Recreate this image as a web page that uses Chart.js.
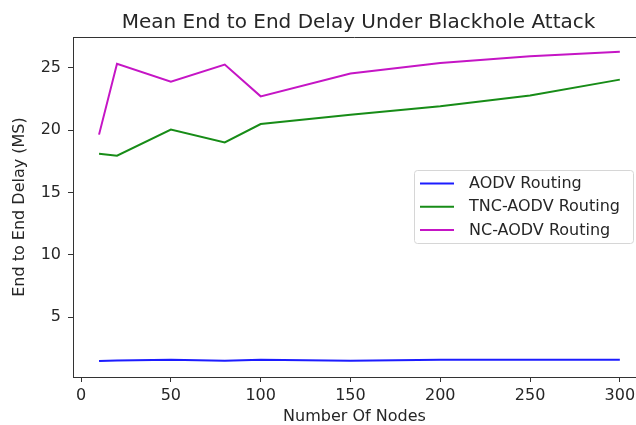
<!DOCTYPE html>
<html>
<head>
<meta charset="utf-8">
<script src="https://cdn.jsdelivr.net/npm/chart.js@4"></script>
<style>
html,body{margin:0;padding:0;background:#fff;}
#wrap{width:636px;height:425px;}
</style>
</head>
<body>
<div id="wrap"><canvas id="delayChart" width="636" height="425"></canvas></div>
<script>
const nodes = [10, 20, 50, 80, 100, 150, 200, 250, 300];
const aodv = [1.49, 1.53, 1.6, 1.52, 1.6, 1.52, 1.6, 1.6, 1.6];
const tncAodv = [18.12, 17.96, 20.05, 19.03, 20.5, 21.25, 21.92, 22.78, 24.06];
const ncAodv = [19.65, 25.33, 23.9, 25.27, 22.72, 24.55, 25.4, 25.94, 26.29];
const xTicks = [0, 50, 100, 150, 200, 250, 300];
const yTicks = [5, 10, 15, 20, 25];

const titleText = "Mean End to End Delay Under Blackhole Attack";
const font = "'DejaVu Sans', sans-serif";
const textColor = "#262626";
const spineColor = "#333";

// title, top spine and the legend inside the axes
const extras = {
  id: "extras",
  afterDraw(chart){
    const ctx = chart.ctx;
    const a = chart.chartArea;
    ctx.save();

    ctx.strokeStyle = spineColor;
    ctx.lineWidth = 1;
    ctx.beginPath();
    ctx.moveTo(a.left, a.top + 0.5);
    ctx.lineTo(a.right, a.top + 0.5);
    ctx.stroke();

    ctx.fillStyle = textColor;
    ctx.font = "20px " + font;
    ctx.textAlign = "center";
    ctx.textBaseline = "alphabetic";
    ctx.fillText(titleText, 358.5, 28.3);

    // legend frame
    const bx = 414.5, by = 170.5, bw = 219, bh = 73, r = 3;
    ctx.fillStyle = "rgba(255,255,255,0.8)";
    ctx.strokeStyle = "#d6d6d6";
    ctx.beginPath();
    ctx.moveTo(bx + r, by);
    ctx.arcTo(bx + bw, by, bx + bw, by + bh, r);
    ctx.arcTo(bx + bw, by + bh, bx, by + bh, r);
    ctx.arcTo(bx, by + bh, bx, by, r);
    ctx.arcTo(bx, by, bx + bw, by, r);
    ctx.closePath();
    ctx.fill();
    ctx.stroke();

    ctx.font = "16px " + font;
    ctx.textAlign = "left";
    ctx.textBaseline = "middle";
    chart.data.datasets.forEach((ds, i) => {
      const y = 183.5 + i * 23.3;
      ctx.strokeStyle = ds.borderColor;
      ctx.lineWidth = 2;
      ctx.beginPath();
      ctx.moveTo(420, y);
      ctx.lineTo(454, y);
      ctx.stroke();
      ctx.fillStyle = textColor;
      ctx.fillText(ds.label, 469, y + 0.5);
    });
    ctx.restore();
  }
};

new Chart(document.getElementById("delayChart"), {
  type: "line",
  data: {
    labels: nodes,
    datasets: [
      {label: "AODV Routing", data: nodes.map((n, i) => ({x: n, y: aodv[i]})), borderColor: "#1c1cff"},
      {label: "TNC-AODV Routing", data: nodes.map((n, i) => ({x: n, y: tncAodv[i]})), borderColor: "#178c17"},
      {label: "NC-AODV Routing", data: nodes.map((n, i) => ({x: n, y: ncAodv[i]})), borderColor: "#c515c5"}
    ]
  },
  options: {
    responsive: false,
    animation: false,
    layout: {padding: {top: 37, left: 0, right: 0, bottom: 0}},
    elements: {
      line: {borderWidth: 2, tension: 0, fill: false},
      point: {radius: 0}
    },
    plugins: {
      legend: {display: false},
      title: {display: false},
      tooltip: {enabled: false}
    },
    scales: {
      x: {
        type: "linear",
        min: -4.5,
        max: 309,
        afterBuildTicks: s => { s.ticks = xTicks.map(v => ({value: v})); },
        afterFit: s => { s.height = 48; s.paddingLeft = 0; s.paddingRight = 0; },
        grid: {drawOnChartArea: false, drawTicks: true, tickLength: 5, tickColor: spineColor},
        border: {display: true, color: spineColor, width: 1},
        ticks: {padding: 4, color: textColor, font: {family: font, size: 16}, maxRotation: 0, autoSkip: false},
        title: {display: true, text: "Number Of Nodes", color: textColor, font: {family: font, size: 16, lineHeight: 1}, padding: {top: 0, bottom: 0}}
      },
      y: {
        type: "linear",
        min: 0.21,
        max: 27.48,
        afterBuildTicks: s => { s.ticks = yTicks.map(v => ({value: v})); },
        afterFit: s => { s.width = 73; s.paddingTop = 0; s.paddingBottom = 0; },
        grid: {drawOnChartArea: false, drawTicks: true, tickLength: 5, tickColor: spineColor},
        border: {display: true, color: spineColor, width: 1},
        ticks: {padding: 7, color: textColor, font: {family: font, size: 16}, autoSkip: false},
        title: {display: true, text: "End to End Delay (MS)", color: textColor, font: {family: font, size: 16, lineHeight: 1}, padding: {top: 11.5, bottom: 0}}
      }
    }
  },
  plugins: [extras]
});
</script>
</body>
</html>
